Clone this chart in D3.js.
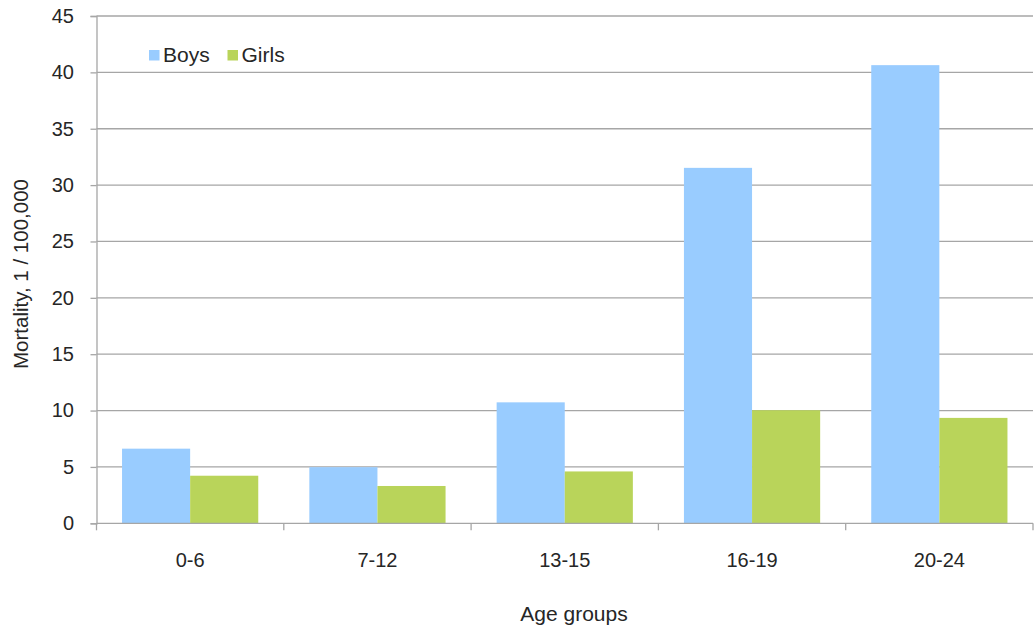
<!DOCTYPE html>
<html>
<head>
<meta charset="utf-8">
<script src="https://cdn.jsdelivr.net/npm/d3@7"></script>
<style>
  body { margin: 0; background: #fff; }
  svg { display: block; font-family: "Liberation Sans", Arial, sans-serif; }
</style>
</head>
<body>
<svg id="chart" width="1036" height="629"></svg>
<script>
// Mortality per 100,000 by age group
const categories = ["0-6", "7-12", "13-15", "16-19", "20-24"];
const seriesNames = ["Boys", "Girls"];
const boys = [6.62, 4.98, 10.73, 31.53, 40.64];
const girls = [4.22, 3.31, 4.6, 10.03, 9.35];
const yTicks = [0, 5, 10, 15, 20, 25, 30, 35, 40, 45];
const colors = ["#99CCFF", "#B9D45A"];

const svg = d3.select("#chart");
const margin = { left: 96.5, right: 3, top: 16, bottom: 105.7 };
const W = 1036, H = 629;
const x0 = margin.left, x1 = W - margin.right;
const yTop = margin.top, yBot = H - margin.bottom;

const x = d3.scaleBand().domain(categories).range([x0, x1]).paddingInner(0).paddingOuter(0);
const xs = d3.scaleBand().domain(seriesNames).range([0, x.bandwidth()]).paddingInner(0).paddingOuter(0.375);
const y = d3.scaleLinear().domain([0, 45]).range([yBot, yTop]);

const textColor = "#262626";
const gridColor = "#A6A6A6";

// horizontal gridlines
svg.append("g").selectAll("line").data(yTicks.filter(d => d > 0)).join("line")
  .attr("x1", x0).attr("x2", x1)
  .attr("y1", d => y(d)).attr("y2", d => y(d))
  .attr("stroke", gridColor).attr("stroke-width", 1.3);

// bars
const rows = categories.map((c, i) => ({ c, vals: [boys[i], girls[i]] }));
const groups = svg.append("g").selectAll("g").data(rows).join("g")
  .attr("transform", d => `translate(${x(d.c)},0)`);
groups.selectAll("rect").data(d => d.vals.map((v, j) => ({ s: seriesNames[j], v, j }))).join("rect")
  .attr("x", d => xs(d.s))
  .attr("width", xs.bandwidth())
  .attr("y", d => y(d.v))
  .attr("height", d => y(0) - y(d.v))
  .attr("fill", d => colors[d.j]);

// y axis
const yAxis = d3.axisLeft(y).tickValues(yTicks).tickSize(6).tickPadding(16.5).tickFormat(d3.format("d"));
const gy = svg.append("g").attr("transform", `translate(${x0},0)`).call(yAxis);
gy.select(".domain").attr("stroke", gridColor).attr("stroke-width", 1.3);
gy.selectAll(".tick line").attr("stroke", gridColor).attr("stroke-width", 1.3);
gy.selectAll(".tick text").attr("fill", textColor).style("font-size", "20px");

// x axis: ticks at category boundaries
const gx = svg.append("g").attr("transform", `translate(0,${yBot})`);
gx.append("line").attr("x1", x0).attr("x2", x1).attr("stroke", gridColor).attr("stroke-width", 1.3);
const bounds = categories.map(c => x(c)).concat([x1]);
gx.selectAll("line.tk").data(bounds).join("line").attr("class", "tk")
  .attr("x1", d => d).attr("x2", d => d).attr("y1", 0).attr("y2", 7)
  .attr("stroke", gridColor).attr("stroke-width", 1.3);
gx.selectAll("text").data(categories).join("text")
  .attr("x", d => x(d) + x.bandwidth() / 2).attr("y", 43.5)
  .attr("text-anchor", "middle").attr("fill", textColor).style("font-size", "20px")
  .text(d => d);

// axis titles
svg.append("text").attr("x", 574).attr("y", 621).attr("text-anchor", "middle")
  .attr("fill", textColor).style("font-size", "21px").text("Age groups");
svg.append("text").attr("transform", `translate(27.5,274) rotate(-90)`)
  .attr("text-anchor", "middle").attr("fill", textColor).style("font-size", "20.5px")
  .text("Mortality, 1 / 100,000");

// legend
const legend = svg.append("g").attr("transform", "translate(149,50)");
const items = legend.selectAll("g").data(seriesNames).join("g")
  .attr("transform", (d, i) => `translate(${i * 78.5},0)`);
items.append("rect").attr("width", 10.5).attr("height", 10.5).attr("fill", (d, i) => colors[i]);
items.append("text").attr("x", 14).attr("y", 11.5).attr("fill", textColor)
  .style("font-size", "21px").text(d => d);
</script>
</body>
</html>
